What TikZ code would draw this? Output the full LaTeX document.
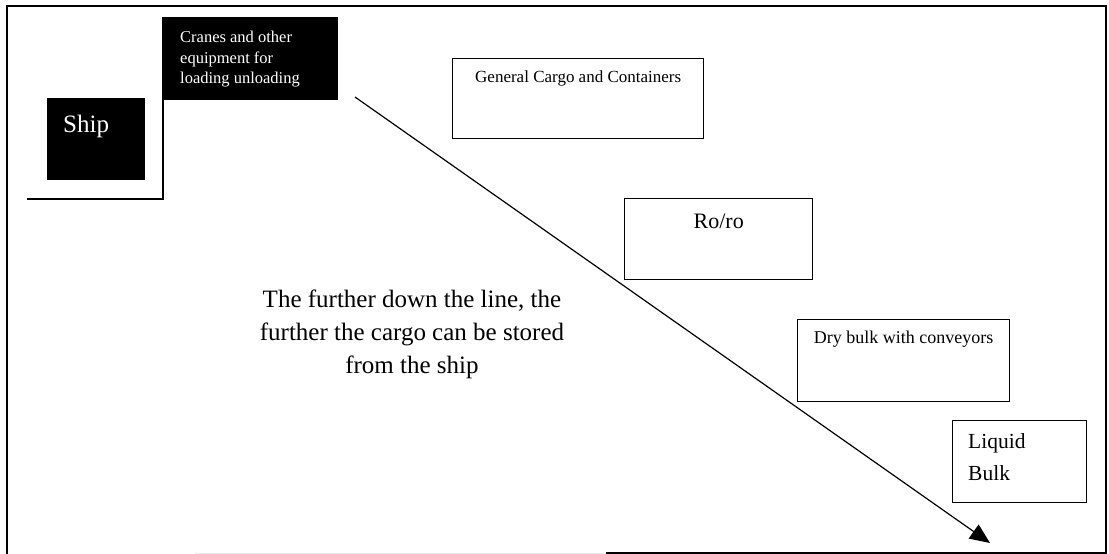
\documentclass[tikz,border=0pt]{standalone}
\usepackage{fontspec}
\setmainfont{Liberation Serif}
\usetikzlibrary{arrows.meta,calc}

\tikzset{
  frameline/.style={line width=2pt, black},
  blackbox/.style={fill=black, draw=none},
  cargobox/.style={draw=black, line width=1.4pt, fill=white, inner sep=0pt, anchor=north west},
  flowarrow/.style={line width=1.2pt, -{Triangle[length=20pt,width=17pt]}},
  plain/.style={inner sep=0pt}
}

\begin{document}
\begin{tikzpicture}[x=1pt,y=-1pt]
  \useasboundingbox (0,0) rectangle (1109,554);

  % outer frame
  \draw[frameline] (606,553) -- (1106,553) -- (1106,6) -- (7,6) -- (7,554);
  \draw[line width=1pt, black!8] (195,553) -- (606,553);

  % quay edge behind the ship
  \draw[line width=1.6pt] (27,199) -- (163,199) -- (163,100);

  % ship and cranes
  \node[blackbox, minimum width=98pt, minimum height=82pt, anchor=north west] (ship) at (47,98) {};
  \node[blackbox, minimum width=176pt, minimum height=83pt, anchor=north west] (cranes) at (162,17) {};
  \node[plain, anchor=base west, text=white, font=\fontsize{25}{30}\selectfont] (shiptext) at (63,132) {Ship};
  \node[plain, anchor=north west, text=white, align=left,
        font=\fontsize{16.5}{20.5}\selectfont] (cranestext) at (180,31)
        {Cranes and other\\equipment for\\loading unloading};

  % cargo types
  \node[cargobox, minimum width=251pt, minimum height=80pt] (general) at (452,58) {};
  \node[plain, anchor=base, font=\fontsize{17}{20}\selectfont] (generaltext)
        at ($(general.north)+(0,24)$) {General Cargo and Containers};

  \node[cargobox, minimum width=188pt, minimum height=81pt] (roro) at (624,198) {};
  \node[plain, anchor=base, font=\fontsize{22}{26}\selectfont] (rorotext)
        at ($(roro.north)+(0,30)$) {Ro/ro};

  \node[cargobox, minimum width=212pt, minimum height=82pt] (dry) at (797,319) {};
  \node[plain, anchor=base, font=\fontsize{18}{21}\selectfont] (drytext)
        at ($(dry.north)+(0,24)$) {Dry bulk with conveyors};

  \node[cargobox, minimum width=134pt, minimum height=82pt] (liquid) at (952,420) {};
  \node[plain, anchor=north west, align=left, font=\fontsize{21.5}{32}\selectfont] (liquidtext)
        at (968,433) {Liquid\\Bulk};

  % explanatory text
  \node[plain, align=center, font=\fontsize{25}{33}\selectfont] (note) at (412,334)
        {The further down the line, the\\further the cargo can be stored\\from the ship};

  % direction of storage distance
  \coordinate (start) at (355,97);
  \coordinate (finish) at (990,543);
  \draw[flowarrow] (start) -- (finish);
\end{tikzpicture}
\end{document}
